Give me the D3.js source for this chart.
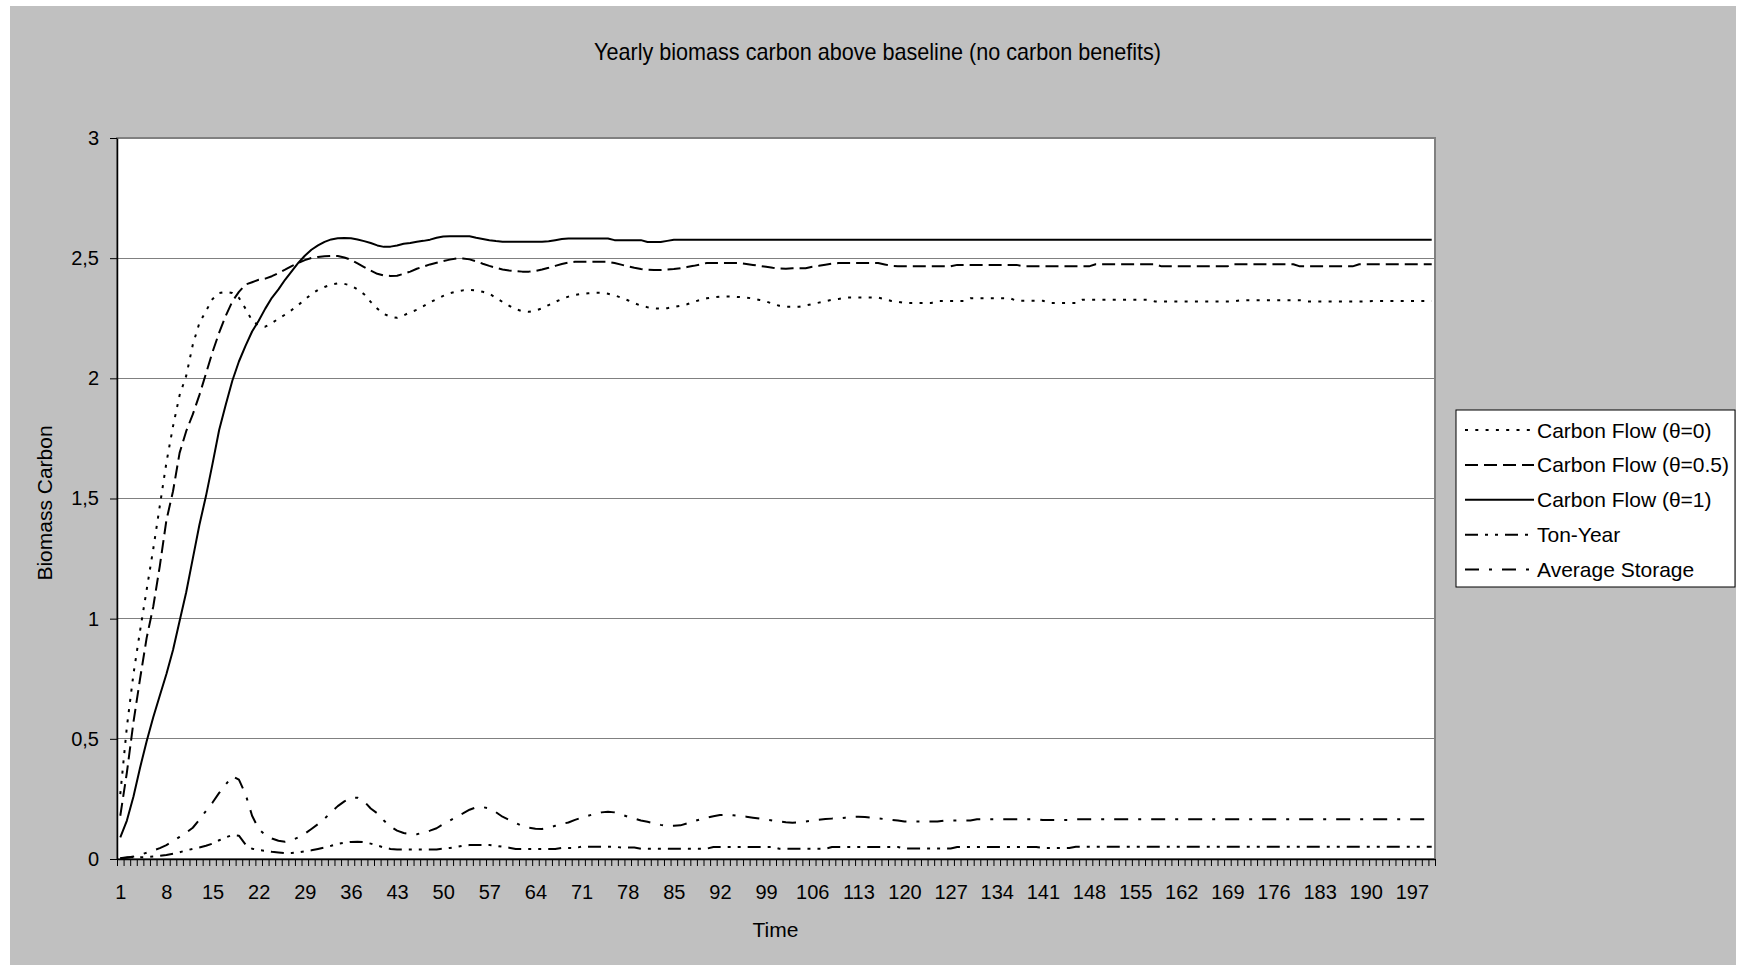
<!DOCTYPE html>
<html><head><meta charset="utf-8">
<script src="https://cdn.jsdelivr.net/npm/d3@7"></script>
<style>
body{margin:0;background:#fff}
svg{display:block}
text{font-family:"Liberation Sans",Arial,sans-serif;fill:#000}
</style>
</head><body>
<svg id="c" width="1742" height="967"></svg>
<script>
const categories = d3.range(1, 201);
const xTickValues = [1,8,15,22,29,36,43,50,57,64,71,78,85,92,99,106,113,120,127,134,141,148,155,162,169,176,183,190,197];
const yTickValues = [0,0.5,1,1.5,2,2.5,3];
const yTickLabels = ["0","0,5","1","1,5","2","2,5","3"];
const seriesNames = ["Carbon Flow (θ=0)","Carbon Flow (θ=0.5)","Carbon Flow (θ=1)","Ton-Year","Average Storage"];

const flowTheta0 = [
0.27,0.55,0.77,0.95,1.12,1.29,1.47,1.65,1.8,1.93,
2.01,2.14,2.23,2.28,2.33,2.355,2.36,2.355,2.335,2.29,
2.24,2.22,2.215,2.23,2.248,2.265,2.284,2.305,2.328,2.35,
2.368,2.38,2.39,2.395,2.393,2.386,2.37,2.35,2.318,2.29,
2.268,2.256,2.252,2.262,2.275,2.285,2.3,2.316,2.33,2.343,
2.354,2.361,2.366,2.368,2.366,2.36,2.352,2.335,2.318,2.302,
2.288,2.279,2.277,2.282,2.291,2.305,2.318,2.33,2.34,2.347,
2.351,2.354,2.356,2.356,2.352,2.345,2.336,2.325,2.313,2.302,
2.296,2.291,2.29,2.292,2.297,2.302,2.308,2.318,2.326,2.333,
2.337,2.34,2.34,2.34,2.338,2.336,2.332,2.326,2.32,2.31,
2.302,2.298,2.298,2.298,2.303,2.309,2.315,2.321,2.327,2.33,
2.336,2.336,2.336,2.336,2.336,2.336,2.33,2.322,2.319,2.313,
2.313,2.313,2.313,2.313,2.322,2.322,2.322,2.322,2.322,2.333,
2.333,2.333,2.333,2.333,2.333,2.333,2.323,2.323,2.323,2.323,
2.323,2.313,2.313,2.313,2.313,2.313,2.327,2.327,2.327,2.327,
2.327,2.327,2.327,2.327,2.327,2.327,2.327,2.32,2.32,2.32,
2.32,2.32,2.32,2.32,2.32,2.32,2.32,2.32,2.32,2.32,
2.325,2.325,2.325,2.325,2.325,2.325,2.325,2.325,2.325,2.325,
2.32,2.32,2.32,2.32,2.32,2.32,2.32,2.32,2.32,2.32,
2.322,2.322,2.322,2.322,2.322,2.322,2.322,2.322,2.322,2.322];

const flowTheta05 = [
0.18,0.36,0.57,0.75,0.92,1.05,1.22,1.41,1.53,1.69,
1.78,1.85,1.93,2.02,2.11,2.19,2.26,2.32,2.36,2.39,
2.4,2.41,2.415,2.425,2.438,2.452,2.467,2.48,2.492,2.501,
2.505,2.508,2.509,2.509,2.503,2.493,2.478,2.463,2.448,2.435,
2.428,2.426,2.427,2.435,2.444,2.456,2.465,2.474,2.481,2.488,
2.494,2.499,2.499,2.495,2.487,2.477,2.468,2.46,2.453,2.449,
2.446,2.444,2.444,2.447,2.453,2.46,2.468,2.476,2.482,2.485,
2.485,2.485,2.485,2.485,2.485,2.48,2.473,2.466,2.46,2.455,
2.452,2.451,2.451,2.453,2.455,2.458,2.463,2.468,2.474,2.48,
2.48,2.48,2.48,2.48,2.48,2.476,2.472,2.468,2.464,2.46,
2.457,2.456,2.458,2.458,2.458,2.464,2.468,2.473,2.477,2.48,
2.48,2.48,2.48,2.48,2.48,2.48,2.474,2.468,2.466,2.466,
2.466,2.466,2.466,2.466,2.466,2.466,2.466,2.472,2.472,2.472,
2.472,2.472,2.472,2.472,2.472,2.472,2.472,2.466,2.466,2.466,
2.466,2.466,2.466,2.466,2.466,2.466,2.466,2.466,2.475,2.475,
2.475,2.475,2.475,2.475,2.475,2.475,2.475,2.475,2.466,2.466,
2.466,2.466,2.466,2.466,2.466,2.466,2.466,2.466,2.466,2.475,
2.475,2.475,2.475,2.475,2.475,2.475,2.475,2.475,2.475,2.466,
2.466,2.466,2.466,2.466,2.466,2.466,2.466,2.466,2.475,2.475,
2.475,2.475,2.475,2.475,2.475,2.475,2.475,2.475,2.475,2.475];

const flowTheta1 = [
0.09,0.16,0.26,0.38,0.49,0.59,0.68,0.77,0.87,0.99,
1.11,1.25,1.39,1.51,1.645,1.785,1.89,1.99,2.07,2.135,
2.195,2.24,2.29,2.335,2.37,2.41,2.445,2.48,2.51,2.535,
2.553,2.568,2.578,2.583,2.584,2.583,2.578,2.571,2.563,2.553,
2.547,2.548,2.553,2.56,2.563,2.568,2.572,2.577,2.585,2.59,
2.591,2.591,2.591,2.591,2.585,2.58,2.575,2.571,2.568,2.568,
2.568,2.568,2.568,2.568,2.568,2.57,2.575,2.58,2.582,2.582,
2.582,2.582,2.582,2.582,2.582,2.575,2.575,2.575,2.575,2.575,
2.567,2.567,2.567,2.572,2.577,2.577,2.577,2.577,2.577,2.577,
2.577,2.577,2.577,2.577,2.577,2.577,2.577,2.577,2.577,2.577,
2.577,2.577,2.577,2.577,2.577,2.577,2.577,2.577,2.577,2.577,
2.577,2.577,2.577,2.577,2.577,2.577,2.577,2.577,2.577,2.577,
2.577,2.577,2.577,2.577,2.577,2.577,2.577,2.577,2.577,2.577,
2.577,2.577,2.577,2.577,2.577,2.577,2.577,2.577,2.577,2.577,
2.577,2.577,2.577,2.577,2.577,2.577,2.577,2.577,2.577,2.577,
2.577,2.577,2.577,2.577,2.577,2.577,2.577,2.577,2.577,2.577,
2.577,2.577,2.577,2.577,2.577,2.577,2.577,2.577,2.577,2.577,
2.577,2.577,2.577,2.577,2.577,2.577,2.577,2.577,2.577,2.577,
2.577,2.577,2.577,2.577,2.577,2.577,2.577,2.577,2.577,2.577,
2.577,2.577,2.577,2.577,2.577,2.577,2.577,2.577,2.577,2.577];

const tonYear = [
0.003,0.007,0.007,0.007,0.008,0.01,0.013,0.017,0.022,0.028,
0.036,0.042,0.048,0.055,0.064,0.078,0.09,0.1,0.097,0.06,
0.043,0.037,0.034,0.03,0.027,0.024,0.025,0.028,0.032,0.036,
0.042,0.048,0.055,0.063,0.068,0.071,0.072,0.07,0.064,0.056,
0.048,0.042,0.04,0.04,0.04,0.04,0.04,0.04,0.04,0.043,
0.046,0.05,0.055,0.058,0.058,0.058,0.058,0.055,0.051,0.047,
0.042,0.042,0.042,0.042,0.042,0.042,0.042,0.046,0.046,0.046,
0.051,0.051,0.051,0.051,0.051,0.051,0.048,0.048,0.048,0.043,
0.043,0.043,0.043,0.043,0.043,0.043,0.043,0.043,0.043,0.043,
0.05,0.05,0.05,0.05,0.05,0.05,0.05,0.05,0.05,0.05,
0.043,0.043,0.043,0.043,0.043,0.043,0.043,0.043,0.05,0.05,
0.05,0.05,0.05,0.05,0.05,0.05,0.05,0.05,0.05,0.044,
0.044,0.044,0.044,0.044,0.044,0.044,0.044,0.05,0.05,0.05,
0.05,0.05,0.05,0.05,0.05,0.05,0.05,0.05,0.05,0.05,
0.046,0.046,0.046,0.046,0.046,0.051,0.051,0.051,0.051,0.051,
0.051,0.051,0.051,0.051,0.051,0.051,0.051,0.051,0.051,0.051,
0.051,0.051,0.051,0.051,0.051,0.051,0.051,0.051,0.051,0.051,
0.051,0.051,0.051,0.051,0.051,0.051,0.051,0.051,0.051,0.051,
0.051,0.051,0.051,0.051,0.051,0.051,0.051,0.051,0.051,0.051,
0.051,0.051,0.051,0.051,0.051,0.051,0.051,0.051,0.051,0.051];

const averageStorage = [
0.003,0.005,0.01,0.018,0.026,0.035,0.045,0.058,0.074,0.092,
0.11,0.13,0.163,0.2,0.235,0.275,0.31,0.345,0.33,0.27,
0.18,0.125,0.1,0.085,0.076,0.072,0.078,0.09,0.105,0.125,
0.145,0.168,0.195,0.22,0.24,0.254,0.255,0.24,0.21,0.19,
0.16,0.135,0.118,0.108,0.104,0.103,0.11,0.118,0.128,0.145,
0.16,0.176,0.19,0.205,0.215,0.216,0.21,0.195,0.176,0.163,
0.15,0.137,0.13,0.126,0.125,0.13,0.138,0.146,0.152,0.163,
0.172,0.18,0.188,0.194,0.197,0.194,0.186,0.176,0.168,0.16,
0.155,0.148,0.142,0.137,0.138,0.14,0.148,0.157,0.165,0.172,
0.178,0.183,0.184,0.182,0.179,0.176,0.172,0.168,0.164,0.16,
0.156,0.153,0.151,0.152,0.156,0.16,0.163,0.166,0.168,0.169,
0.172,0.175,0.176,0.175,0.172,0.169,0.166,0.163,0.16,0.156,
0.156,0.156,0.156,0.156,0.156,0.16,0.16,0.16,0.16,0.16,
0.165,0.165,0.165,0.165,0.165,0.165,0.165,0.165,0.165,0.165,
0.162,0.162,0.162,0.162,0.162,0.165,0.165,0.165,0.165,0.165,
0.165,0.165,0.165,0.165,0.165,0.165,0.165,0.165,0.165,0.165,
0.165,0.165,0.165,0.165,0.165,0.165,0.165,0.165,0.165,0.165,
0.165,0.165,0.165,0.165,0.165,0.165,0.165,0.165,0.165,0.165,
0.165,0.165,0.165,0.165,0.165,0.165,0.165,0.165,0.165,0.165,
0.165,0.165,0.165,0.165,0.165,0.165,0.165,0.165,0.165,0.165];

const seriesValues = [flowTheta0, flowTheta05, flowTheta1, tonYear, averageStorage];
const seriesDash = ["3,7.3", "13,6", null, "13,7,3,7,3,7", "14,10,3,10"];

const P = {left:117, right:1435, top:138, bottom:859};
const svg = d3.select("#c");

svg.append("rect").attr("x",10).attr("y",6).attr("width",1726).attr("height",959).attr("fill","#c0c0c0");

const x = d3.scaleLinear().domain([0.5, 200.5]).range([P.left, P.right]);
const y = d3.scaleLinear().domain([0, 3]).range([P.bottom, P.top]);

svg.append("rect").attr("x",P.left).attr("y",P.top).attr("width",P.right-P.left).attr("height",P.bottom-P.top)
  .attr("fill","#fff").attr("stroke","#808080").attr("stroke-width",2);

// gridlines
svg.append("g").selectAll("line").data(yTickValues.filter(v => v > 0 && v < 3)).join("line")
  .attr("x1",P.left).attr("x2",P.right).attr("y1",d=>y(d)).attr("y2",d=>y(d))
  .attr("stroke","#808080").attr("stroke-width",1).attr("shape-rendering","crispEdges");

// y axis
const yAxis = svg.append("g").attr("transform",`translate(${P.left},0)`)
  .call(d3.axisLeft(y).tickValues(yTickValues).tickFormat((d,i)=>yTickLabels[i]).tickSize(7).tickSizeOuter(0).tickPadding(11));
yAxis.selectAll("text").style("font-size","20px").attr("fill","#000");
yAxis.selectAll("line").attr("stroke","#000");
yAxis.select(".domain").attr("stroke","#000").attr("stroke-width",1.5);

// x axis ticks between categories
const boundaries = categories.map(c => c - 0.5).concat([categories[categories.length-1] + 0.5]);
const xAxis = svg.append("g").attr("transform",`translate(0,${P.bottom})`)
  .call(d3.axisBottom(x).tickValues(boundaries).tickFormat("").tickSize(7).tickSizeOuter(0));
xAxis.selectAll("line").attr("stroke","#000");
xAxis.select(".domain").attr("stroke","#000").attr("stroke-width",1.5);

const xLab = svg.append("g").attr("transform",`translate(0,${P.bottom})`)
  .call(d3.axisBottom(x).tickValues(xTickValues).tickFormat(d=>String(d)).tickSize(0).tickPadding(26));
xLab.select(".domain").remove();
xLab.selectAll("text").style("font-size","20px").attr("fill","#000");

// lines
const line = d3.line().x((d,i)=>x(categories[i])).y(d=>y(d));
seriesValues.forEach((vals, k) => {
  svg.append("path").datum(vals).attr("d", line)
    .attr("fill","none").attr("stroke","#000").attr("stroke-width",2)
    .attr("stroke-dasharray", seriesDash[k]).attr("stroke-linejoin","round");
});

// title
svg.append("text").attr("x",877.5).attr("y",60).attr("text-anchor","middle")
  .style("font-size","24px").attr("textLength",567).attr("lengthAdjust","spacingAndGlyphs")
  .text("Yearly biomass carbon above baseline (no carbon benefits)");

// axis titles
svg.append("text").attr("transform","translate(52,503) rotate(-90)").attr("text-anchor","middle")
  .style("font-size","21px").text("Biomass Carbon");
svg.append("text").attr("x",775.5).attr("y",937).attr("text-anchor","middle")
  .style("font-size","21px").text("Time");

// legend
const lg = svg.append("g");
lg.append("rect").attr("x",1456).attr("y",410).attr("width",279).attr("height",177)
  .attr("fill","#fff").attr("stroke","#000").attr("stroke-width",1);
seriesNames.forEach((name, k) => {
  const cy = 430 + k*34.9;
  lg.append("line").attr("x1",1465).attr("x2",1534).attr("y1",cy).attr("y2",cy)
    .attr("stroke","#000").attr("stroke-width",2).attr("stroke-dasharray",seriesDash[k]);
  lg.append("text").attr("x",1537).attr("y",cy).attr("dy","0.36em")
    .style("font-size","21px").text(name);
});
</script>
</body></html>
